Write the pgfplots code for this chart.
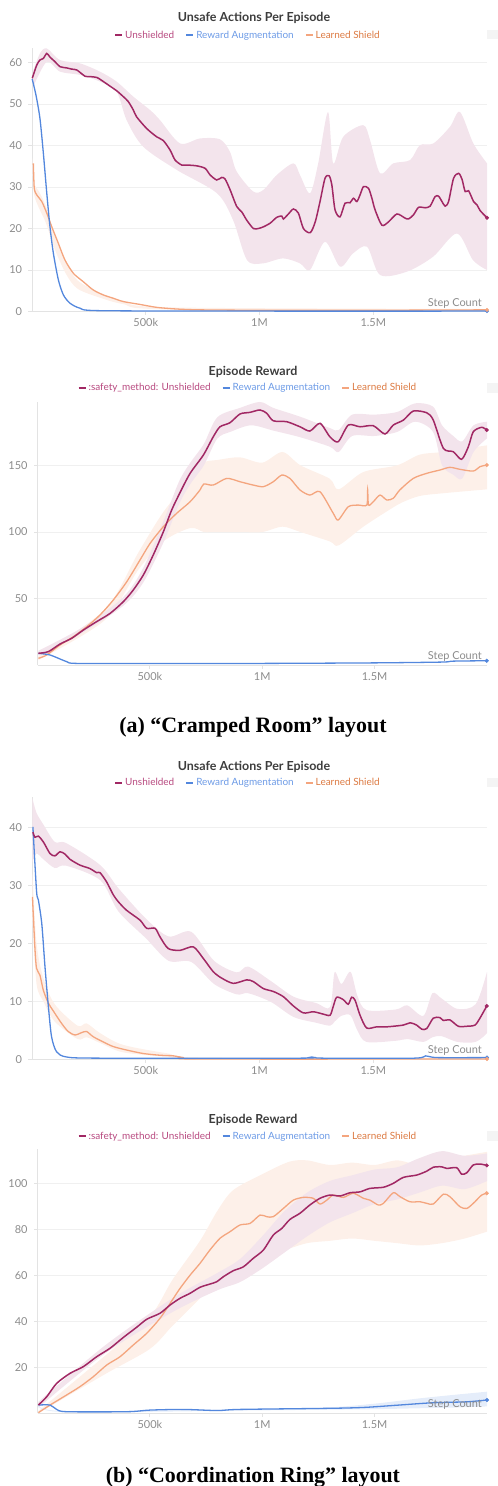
\documentclass[border=0pt]{standalone}
\usepackage{fontspec}
\setmainfont{Lato}
\newfontfamily\capfont{Liberation Serif}
\usepackage{pgfplots}
\pgfplotsset{compat=1.18}
\usepgfplotslibrary{fillbetween}

\definecolor{unsh}{HTML}{A12864}
\definecolor{unshT}{HTML}{B84A80}
\definecolor{unshB}{HTML}{F3E4EC}
\definecolor{rew}{HTML}{5387DD}
\definecolor{rewT}{HTML}{6D9BE6}
\definecolor{rewB}{HTML}{E5EDFA}
\definecolor{lsh}{HTML}{F4A57E}
\definecolor{lshT}{HTML}{DC7A42}
\definecolor{lshB}{HTML}{FDF0E9}
\definecolor{gridc}{HTML}{F0F0F0}
\definecolor{axisc}{HTML}{E3E3E3}
\definecolor{tickc}{HTML}{8C8C8C}
\definecolor{titlec}{HTML}{3D3D3D}
\definecolor{boxc}{HTML}{F4F4F4}

\pgfplotsset{
  wb/.style={
    scale only axis, anchor=south west,
    xmin=0, xmax=2, ymin=0,
    axis x line*=bottom, axis y line*=left,
    axis line style={draw=axisc, line width=0.9bp, -},
    xtick={0.5,1,1.5}, xticklabels={500k,1M,1.5M},
    tick align=outside, major tick length=3.5bp,
    tick style={draw=axisc, line width=0.9bp},
    ymajorgrids, grid style={draw=gridc, line width=0.9bp},
    tick label style={font=\fontsize{11}{13}\selectfont, text=tickc},
    yticklabel style={xshift=-3bp},
    /pgf/number format/assume math mode=true,
    clip=false,
    legend columns=3,
    legend style={draw=none, fill=none, font=\fontsize{10}{12}\selectfont,
      anchor=center, inner sep=0pt,
      /tikz/every even column/.append style={column sep=9bp}},
    legend image code/.code={\draw[##1, line width=2bp] (0bp,0bp) -- (7bp,0bp);},
  },
  band/.style={draw=none, forget plot, smooth, tension=0.5},
  ln/.style={line width=1.3bp, forget plot, mark=none, smooth, tension=0.45},
  enddot/.style={only marks, mark=*, mark size=1.8bp, forget plot},
}

\newcommand{\stepcount}{\node[anchor=east, font=\fontsize{11}{13}\selectfont, text=tickc, inner sep=0pt, xshift=-5bp, yshift=8.5bp] at (rel axis cs:1,0) {Step Count};}

\begin{document}
\begin{tikzpicture}

% ---------------- Panel 1 ----------------
\node[font=\bfseries\fontsize{12.5}{14}\selectfont, text=titlec] at (254bp,-18bp) {Unsafe Actions Per Episode};
\fill[boxc] (487bp,-30bp) rectangle (498bp,-39bp);
\begin{axis}[wb, at={(32bp,-311.5bp)}, width=455bp, height=263.5bp, ymax=63.5,
  ytick={0,10,20,30,40,50,60},
  legend style={at={(axis description cs:0.4747,1.049)}}]
\addlegendimage{unsh}\addlegendentry{\textcolor{unshT}{Unshielded}}
\addlegendimage{rew}\addlegendentry{\textcolor{rewT}{Reward Augmentation}}
\addlegendimage{lsh}\addlegendentry{\textcolor{lshT}{Learned Shield}}
% red band
\addplot[band, name path=p1ru] table {
x y
0.004 57.8
0.035 62.2
0.065 63.4
0.123 60.6
0.211 59.8
0.299 57.8
0.372 55.4
0.445 51.8
0.52 48.5
0.563 46.1
0.651 40.5
0.738 41.7
0.826 41.5
0.870 38.5
0.900 33.7
0.973 28.9
1.017 29.3
1.076 32.9
1.149 35.7
1.178 32.9
1.222 28.5
1.258 35.7
1.301 48.1
1.324 35.7
1.368 42.1
1.456 44.9
1.486 41.3
1.530 33.3
1.588 35.7
1.662 36.5
1.705 40.1
1.764 40.5
1.837 44.5
1.881 48.1
1.940 40.5
2.000 35.7
};
\addplot[band, name path=p1rl] table {
x y
0.004 54.0
0.065 60.2
0.123 57.8
0.211 57.0
0.299 55.4
0.372 53.0
0.416 46.1
0.489 39.7
0.637 34.1
0.813 28.5
0.884 22.0
0.945 12.4
1.015 11.6
1.103 12.8
1.178 11.6
1.222 10.0
1.288 16.8
1.354 10.8
1.411 14.0
1.473 15.6
1.530 8.8
1.648 9.6
1.763 13.2
1.868 18.8
1.938 12.4
2.000 10.0
};
\addplot[fill=unshB, draw=none, forget plot] fill between[of=p1ru and p1rl];
% orange band
\addplot[band, name path=p1ou] table {
x y
0.003 37
0.010 31
0.030 29
0.060 25.5
0.100 18.5
0.150 12
0.200 7.5
0.300 4.5
0.400 2.6
0.600 1.0
2.000 0.6
};
\addplot[band, name path=p1ol] table {
x y
0.003 33
0.010 28
0.030 25
0.060 21.5
0.100 15
0.150 9
0.200 5.5
0.300 3.3
0.400 1.8
0.600 0.5
2.000 0.2
};
\addplot[fill=lshB, draw=none, forget plot] fill between[of=p1ou and p1ol];
% lines
\addplot[ln, lsh] table {
x y
0.006 35.7
0.010 29.7
0.021 28.1
0.043 26.5
0.065 23.7
0.087 20.4
0.116 16.4
0.145 12.4
0.182 9.2
0.225 7.2
0.269 5.2
0.313 4.0
0.357 3.2
0.401 2.4
0.475 1.7
0.548 1.0
0.636 0.6
0.738 0.4
1.000 0.3
1.500 0.3
2.000 0.4
};
\addplot[ln, rew] table {
x y
0.001 56.0
0.018 52.0
0.035 46.5
0.050 38.1
0.065 28.5
0.079 20.4
0.094 14.0
0.116 7.6
0.138 4.0
0.167 2.0
0.211 0.8
0.299 0.2
1.000 0.1
2.000 0.1
};
\addplot[ln, unsh, line width=1.5bp] table {
x y
0.001 56.2
0.021 59.4
0.035 60.6
0.050 61.0
0.065 62.2
0.079 61.3
0.101 60.2
0.123 59.0
0.153 58.7
0.175 58.4
0.197 58.2
0.233 56.7
0.255 56.6
0.285 56.4
0.314 55.4
0.343 54.3
0.372 53.2
0.401 51.8
0.423 50.6
0.445 48.6
0.460 46.9
0.504 44.1
0.548 42.1
0.577 41.2
0.607 38.9
0.629 36.5
0.658 35.3
0.680 35.3
0.724 35.1
0.761 34.5
0.783 32.9
0.812 31.7
0.834 32.3
0.849 31.9
0.871 29.3
0.900 25.3
0.922 24.0
0.944 22.0
0.973 20.0
0.995 20.0
1.017 20.4
1.047 21.3
1.076 22.7
1.098 23.0
1.105 22.3
1.127 23.5
1.149 24.7
1.171 23.7
1.193 20.0
1.223 19.0
1.245 21.6
1.266 26.5
1.288 32.1
1.306 32.7
1.318 30.5
1.332 24.5
1.354 22.8
1.376 26.1
1.398 26.2
1.413 27.3
1.428 26.5
1.442 28.1
1.457 30.1
1.479 29.7
1.494 27.3
1.508 24.5
1.538 20.8
1.567 21.6
1.604 23.5
1.640 22.5
1.655 22.3
1.677 23.3
1.699 25.1
1.728 25.0
1.750 25.4
1.772 27.7
1.787 27.8
1.802 26.5
1.816 25.4
1.831 26.5
1.853 32.1
1.875 33.3
1.890 31.9
1.904 28.9
1.919 29.1
1.941 26.5
1.956 25.7
1.970 24.3
2.000 22.6
};
\addplot[enddot, rew] coordinates {(2.0,0.1)};
\addplot[enddot, lsh] coordinates {(2.0,0.4)};
\addplot[enddot, unsh] coordinates {(2.0,22.6)};
\stepcount
\end{axis}

% ---------------- Panel 2 ----------------
\node[font=\bfseries\fontsize{12.5}{14}\selectfont, text=titlec] at (253bp,-372bp) {Episode Reward};
\fill[boxc] (487bp,-383bp) rectangle (498bp,-393bp);
\begin{axis}[wb, at={(37.5bp,-665.4bp)}, width=449.5bp, height=263.7bp, ymax=197.7,
  ytick={50,100,150},
  legend style={at={(axis description cs:0.468,1.052)}}]
\addlegendimage{unsh}\addlegendentry{\textcolor{unshT}{:safety\_method: Unshielded}}
\addlegendimage{rew}\addlegendentry{\textcolor{rewT}{Reward Augmentation}}
\addlegendimage{lsh}\addlegendentry{\textcolor{lshT}{Learned Shield}}
% orange band
\addplot[band, name path=p2ou] table {
x y
0.004 7
0.300 42
0.450 85
0.560 115
0.680 140
0.740 152
0.800 154
0.900 156
1.000 152
1.090 160
1.170 150
1.300 140
1.340 132
1.450 145
1.600 150
1.700 158
1.800 160
2.000 165
};
\addplot[band, name path=p2ol] table {
x y
0.004 4
0.300 34
0.450 72
0.560 93
0.680 103
0.740 100
0.800 100
0.900 100
1.000 100
1.090 104
1.170 100
1.300 93
1.340 90
1.450 104
1.550 115
1.620 122
1.700 127
1.800 129
2.000 132
};
\addplot[fill=lshB, draw=none, forget plot] fill between[of=p2ou and p2ol];
% red band
\addplot[band, name path=p2ru] table {
x y
0.004 11
0.200 28.5
0.380 51
0.470 73
0.560 108
0.630 138
0.680 152
0.740 166
0.800 186
0.900 193
0.990 197.5
1.050 193
1.170 186.4
1.300 178
1.340 176.5
1.400 188
1.500 188
1.600 190
1.680 196.5
1.760 194
1.800 180
1.850 172
1.890 168
1.940 180
2.000 182.7
};
\addplot[band, name path=p2rl] table {
x y
0.004 7.5
0.200 24.5
0.380 44.5
0.470 62
0.560 92
0.630 121
0.680 136
0.740 150
0.800 170
0.860 175.2
0.950 180
1.050 176
1.170 171
1.300 164
1.340 160
1.400 172
1.500 172
1.600 175
1.680 182.7
1.760 175
1.800 150
1.850 143
1.890 140.2
1.940 160
2.000 170.2
};
\addplot[fill=unshB, draw=none, forget plot] fill between[of=p2ru and p2rl];
\addplot[ln, lsh] table {
x y
0.004 5.3
0.041 7.8
0.100 15.3
0.159 21.5
0.219 29.0
0.278 37.8
0.337 49.0
0.397 62.7
0.456 79.0
0.501 91.5
0.560 104.0
0.619 114.0
0.679 122.7
0.723 131.5
0.740 136.0
0.782 135.2
0.842 140.2
0.901 137.7
0.960 135.2
1.005 134.0
1.049 137.7
1.087 142.7
1.123 140.2
1.168 131.5
1.212 127.7
1.257 130.2
1.316 114.0
1.338 109.0
1.383 119.0
1.427 120.2
1.465 120.2
1.469 131.5
1.473 120.2
1.494 122.7
1.524 127.7
1.554 124.0
1.583 125.3
1.612 131.5
1.672 140.2
1.732 144.0
1.791 146.5
1.835 148.5
1.880 147.0
1.939 145.7
1.969 149.0
1.999 150.2
};
\addplot[ln, rew] table {
x y
0.004 9.0
0.056 7.8
0.130 2.8
0.174 1.5
0.500 1.4
1.000 1.5
1.500 1.9
1.800 2.5
1.850 3.2
2.000 3.5
};
\addplot[ln, unsh, line width=1.5bp] table {
x y
0.004 9.1
0.048 10.3
0.100 16.0
0.152 20.3
0.204 26.5
0.263 32.8
0.323 39.0
0.382 47.8
0.426 56.5
0.471 67.8
0.515 82.8
0.560 100.2
0.597 116.5
0.634 129.5
0.679 144.0
0.738 157.7
0.782 171.4
0.812 178.9
0.856 181.9
0.901 188.5
0.945 189.7
0.990 191.5
1.020 189.0
1.049 183.4
1.109 182.7
1.168 178.9
1.212 175.7
1.257 181.5
1.301 171.4
1.338 167.7
1.383 180.2
1.435 178.9
1.494 179.7
1.546 173.5
1.583 180.2
1.628 183.9
1.672 190.7
1.732 189.4
1.761 183.9
1.806 162.7
1.850 160.2
1.887 154.5
1.917 163.9
1.939 175.2
1.976 178.5
1.999 176.5
};
\addplot[enddot, rew] coordinates {(1.999,3.5)};
\addplot[enddot, lsh] coordinates {(1.999,150.2)};
\addplot[enddot, unsh] coordinates {(1.999,176.5)};
\stepcount
\end{axis}
\node[font=\capfont\bfseries\fontsize{22}{26}\selectfont, text=black] at (253bp,-727bp) {(a) “Cramped Room” layout};

% ---------------- Panel 3 ----------------
\node[font=\bfseries\fontsize{12.5}{14}\selectfont, text=titlec] at (254bp,-767bp) {Unsafe Actions Per Episode};
\fill[boxc] (487bp,-778bp) rectangle (498bp,-787bp);
\begin{axis}[wb, at={(32bp,-1059.3bp)}, width=455bp, height=262.6bp, ymax=45.3,
  ytick={0,10,20,30,40},
  legend style={at={(axis description cs:0.4747,1.052)}}]
\addlegendimage{unsh}\addlegendentry{\textcolor{unshT}{Unshielded}}
\addlegendimage{rew}\addlegendentry{\textcolor{rewT}{Reward Augmentation}}
\addlegendimage{lsh}\addlegendentry{\textcolor{lshT}{Learned Shield}}
\addplot[band, name path=p3ru] table {
x y
0.002 45
0.020 42.5
0.050 40.5
0.100 37.5
0.150 37.3
0.300 33.5
0.380 29.5
0.500 24.3
0.600 21.2
0.700 22.0
0.800 17.0
0.900 15.0
0.950 16.0
1.050 13.5
1.150 10.8
1.250 9.7
1.310 9.0
1.330 15.0
1.360 13.0
1.400 15.1
1.430 11.0
1.470 8.5
1.600 8.6
1.650 9.3
1.720 7.5
1.760 11.4
1.800 10.5
1.870 8.7
1.950 9.5
2.000 15.1
};
\addplot[band, name path=p3rl] table {
x y
0.002 34.0
0.020 35.5
0.050 34.5
0.100 33.0
0.150 33.4
0.300 30.9
0.380 25.5
0.500 20.9
0.600 17.0
0.700 16.8
0.800 13.0
0.900 11.2
0.950 11.4
1.050 9.9
1.150 7.3
1.250 6.3
1.310 5.8
1.330 6.5
1.360 7.5
1.400 7.6
1.430 5.0
1.470 3.0
1.600 3.2
1.650 3.5
1.720 3.0
1.760 3.8
1.800 4.0
1.870 3.0
1.950 3.0
2.000 4.5
};
\addplot[fill=unshB, draw=none, forget plot] fill between[of=p3ru and p3rl];
\addplot[band, name path=p3ou] table {
x y
0.002 32
0.020 20
0.050 14
0.100 9.5
0.200 5.8
0.240 6.2
0.300 4.5
0.400 2.5
0.600 1.0
0.750 0.3
2.000 0.2
};
\addplot[band, name path=p3ol] table {
x y
0.002 24
0.020 13
0.050 10
0.100 6.5
0.200 3.5
0.240 3.8
0.300 2.8
0.400 1.2
0.600 0.4
0.750 0.0
2.000 0.0
};
\addplot[fill=lshB, draw=none, forget plot] fill between[of=p3ou and p3ol];
\addplot[ln, lsh] table {
x y
0.002 28.0
0.013 19.1
0.020 15.7
0.035 14.5
0.050 11.9
0.072 9.7
0.101 7.9
0.130 6.2
0.159 4.8
0.189 4.2
0.218 4.6
0.240 4.8
0.269 3.9
0.313 3.0
0.357 2.2
0.416 1.6
0.489 1.0
0.563 0.7
0.621 0.6
0.665 0.3
0.738 0.05
2.000 0.05
};
\addplot[ln, rew] table {
x y
0.004 40.1
0.020 29.0
0.028 27.5
0.043 23.4
0.057 16.0
0.072 9.1
0.086 3.9
0.108 1.3
0.152 0.4
0.300 0.2
1.180 0.2
1.230 0.4
1.280 0.2
1.680 0.2
1.730 0.6
1.780 0.3
2.000 0.3
};
\addplot[ln, unsh, line width=1.5bp] table {
x y
0.004 39.2
0.013 38.3
0.028 38.5
0.050 37.5
0.079 35.5
0.101 35.1
0.123 35.8
0.145 35.4
0.167 34.5
0.211 33.5
0.255 32.9
0.284 32.2
0.299 32.2
0.328 30.6
0.357 28.4
0.379 27.2
0.416 25.7
0.475 24.0
0.504 22.6
0.541 22.6
0.563 21.1
0.599 19.1
0.651 18.8
0.709 19.4
0.753 17.4
0.797 15.1
0.834 14.0
0.885 13.1
0.944 13.7
0.973 13.4
1.017 12.2
1.061 11.7
1.105 10.8
1.149 9.2
1.193 8.0
1.237 8.2
1.280 7.8
1.310 7.6
1.324 9.1
1.339 10.7
1.368 10.3
1.390 9.5
1.405 10.7
1.420 10.2
1.442 7.6
1.471 5.4
1.515 5.6
1.559 5.6
1.632 5.9
1.662 6.3
1.691 5.9
1.713 5.2
1.735 5.3
1.764 7.1
1.793 7.2
1.808 6.7
1.837 6.8
1.874 5.7
1.911 5.7
1.947 5.9
1.969 7.1
1.999 9.2
};
\addplot[enddot, rew] coordinates {(2.0,0.3)};
\addplot[enddot, lsh] coordinates {(2.0,0.05)};
\addplot[enddot, unsh] coordinates {(1.999,9.2)};
\stepcount
\end{axis}

% ---------------- Panel 4 ----------------
\node[font=\bfseries\fontsize{12.5}{14}\selectfont, text=titlec] at (253bp,-1120bp) {Episode Reward};
\fill[boxc] (487bp,-1131bp) rectangle (498bp,-1141bp);
\begin{axis}[wb, at={(37.5bp,-1413.3bp)}, width=449.5bp, height=264bp, ymax=114.8,
  ytick={20,40,60,80,100},
  legend style={at={(axis description cs:0.468,1.050)}}]
\addlegendimage{unsh}\addlegendentry{\textcolor{unshT}{:safety\_method: Unshielded}}
\addlegendimage{rew}\addlegendentry{\textcolor{rewT}{Reward Augmentation}}
\addlegendimage{lsh}\addlegendentry{\textcolor{lshT}{Learned Shield}}
\addplot[band, name path=p4ou] table {
x y
0.004 1
0.300 25
0.500 42
0.600 58
0.723 75
0.800 88
0.870 97
1.000 104
1.120 109.4
1.200 110
1.300 108
1.400 109
1.500 108
1.600 110
1.700 108
1.800 110
1.900 112
2.000 113.7
};
\addplot[band, name path=p4ol] table {
x y
0.004 0
0.300 17
0.500 28
0.600 38
0.723 50
0.800 58
0.900 63
1.000 68
1.100 71
1.200 74
1.300 75
1.400 76
1.500 75
1.600 74
1.700 73
1.800 74
1.900 76
2.000 79
};
\addplot[fill=lshB, draw=none, forget plot] fill between[of=p4ou and p4ol];
\addplot[band, name path=p4ru] table {
x y
0.004 5
0.300 29.5
0.600 50
0.800 61
0.900 67
1.000 77
1.100 88
1.200 96
1.300 101
1.400 103.5
1.500 106
1.600 107
1.700 111
1.800 114
1.900 112
2.000 113
};
\addplot[band, name path=p4rl] table {
x y
0.004 2.5
0.300 26
0.600 44
0.800 53.5
0.900 57
1.000 63
1.100 70
1.200 77
1.300 83
1.400 87
1.500 91
1.600 93
1.700 96
1.800 99
1.900 97.5
2.000 101
};
\addplot[fill=unshB, draw=none, forget plot] fill between[of=p4ru and p4rl];
\addplot[band, name path=p4bu] table {
x y
0.004 3.8
0.130 0.9
1.000 1.9
1.300 2.6
1.500 4.2
1.700 6.5
1.850 8
2.000 9.4
};
\addplot[band, name path=p4bl] table {
x y
0.004 3.4
0.130 0.5
1.000 1.3
1.300 1.6
1.500 1.8
1.700 2.2
1.850 2.5
2.000 3
};
\addplot[fill=rewB, draw=none, forget plot] fill between[of=p4bu and p4bl];
\addplot[ln, lsh] table {
x y
0.004 0.3
0.056 3.6
0.130 8.0
0.189 11.6
0.248 15.9
0.308 21.0
0.367 24.6
0.426 29.7
0.486 34.8
0.545 41.3
0.590 47.8
0.634 54.3
0.679 60.1
0.723 65.2
0.767 71.0
0.812 76.1
0.857 79.0
0.901 81.9
0.946 82.6
0.990 86.2
1.020 85.5
1.049 85.5
1.094 89.1
1.138 92.7
1.183 93.9
1.227 93.5
1.257 91.0
1.287 92.7
1.316 94.9
1.361 93.9
1.405 95.7
1.450 93.5
1.479 92.7
1.516 90.6
1.539 91.3
1.583 95.9
1.613 94.2
1.657 92.0
1.702 92.0
1.732 91.3
1.761 91.0
1.806 95.3
1.835 94.2
1.880 89.8
1.910 89.1
1.939 91.3
1.976 94.9
1.999 95.7
};
\addplot[ln, rew] table {
x y
0.004 3.6
0.056 3.6
0.085 1.7
0.130 0.7
0.400 0.7
0.500 1.4
0.650 1.7
0.800 1.2
0.900 1.7
1.316 2.2
1.460 2.6
1.610 3.6
1.760 4.6
1.910 5.0
2.000 5.8
};
\addplot[ln, unsh, line width=1.5bp] table {
x y
0.004 3.6
0.041 7.2
0.085 13.0
0.145 17.4
0.204 20.3
0.263 24.6
0.323 28.3
0.382 33.0
0.441 37.4
0.486 40.9
0.545 43.5
0.590 47.1
0.634 50.0
0.679 52.2
0.723 54.8
0.767 56.2
0.797 57.2
0.827 59.4
0.871 62.0
0.916 63.7
0.960 67.4
1.005 71.0
1.049 77.5
1.087 80.4
1.123 84.3
1.168 87.0
1.212 90.6
1.257 93.5
1.301 94.9
1.346 94.5
1.390 95.9
1.435 96.3
1.479 97.8
1.539 98.3
1.583 100.0
1.628 102.6
1.687 103.6
1.732 105.3
1.761 107.0
1.798 107.2
1.821 106.5
1.865 106.8
1.887 104.0
1.910 104.6
1.939 108.0
1.969 108.4
1.999 107.8
};
\addplot[enddot, rew] coordinates {(2.0,5.8)};
\addplot[enddot, lsh] coordinates {(1.999,95.7)};
\addplot[enddot, unsh] coordinates {(1.999,107.8)};
\stepcount
\end{axis}
\node[font=\capfont\bfseries\fontsize{22}{26}\selectfont, text=black] at (253bp,-1477bp) {(b) “Coordination Ring” layout};

\pgfresetboundingbox
\path[use as bounding box] (0,0) rectangle (498bp,-1486bp);
\end{tikzpicture}
\end{document}
